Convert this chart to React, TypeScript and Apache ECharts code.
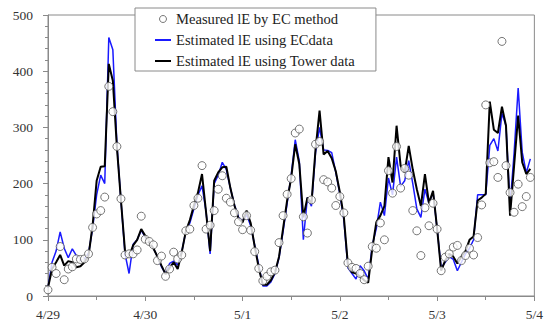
import React, { useEffect, useRef } from 'react';
import * as echarts from 'echarts';

// x tick labels (one per day, every 24 hours starting 4/29 00:00)
const dayLabels = ['4/29', '4/30', '5/1', '5/2', '5/3', '5/4'];

// hourly values, hour 0 = 4/29 00:00
const measured = [
  11, 51, 40, 88, 29, 48, 52, 66, 65, 66, 75, 122, 146, 152, 176, 373, 328, 266, 173, 73, 75, 75, 82, 142,
  101, 97, 91, 63, 71, 35, 48, 78, 66, 73, 116, 119, 161, 174, 232, 119, 126, 152, 190, 214, 174, 167, 148, 132,
  118, 143, 117, 79, 49, 27, 35, 43, 46, 95, 143, 181, 209, 290, 297, 141, 112, 171, 270, 275, 207, 203, 192, 161,
  177, 148, 59, 51, 49, 40, 29, 53, 88, 85, 130, 100, 223, 183, 266, 192, 227, 215, 152, 116, 72, 157, 125, 165,
  119, 45, 69, 75, 87, 90, 63, 72, 85, 73, 104, 162, 340, 237, 239, 211, 453, 232, 184, 149, 199, 159, 177, 211,
];

const ecEstimate = [
  15, 60, 80, 114, 85, 68, 84, 72, 63, 66, 76, 120, 180, 215, 200, 460, 438, 270, 170, 75, 40, 92, 100, 117,
  105, 95, 85, 70, 52, 40, 58, 62, 55, 78, 115, 130, 155, 180, 196, 150, 75, 200, 215, 238, 225, 192, 162, 140,
  133, 145, 125, 90, 55, 18, 18, 25, 40, 68, 115, 165, 215, 278, 240, 100, 175, 160, 255, 300, 260, 259, 255, 220,
  182, 135, 50, 40, 30, 54, 45, 30, 90, 120, 167, 143, 210, 180, 247, 195, 205, 241, 200, 155, 140, 190, 165, 185,
  120, 50, 60, 70, 65, 45, 60, 75, 85, 100, 180, 180, 180, 268, 280, 258, 325, 303, 160, 255, 370, 256, 219, 244,
];

const towerEstimate = [
  15, 48, 60, 73, 54, 62, 60, 51, 53, 60, 72, 125, 205, 230, 231, 413, 383, 265, 170, 80, 70, 90, 100, 119,
  107, 95, 85, 70, 54, 39, 50, 60, 48, 78, 115, 135, 161, 184, 217, 149, 80, 205, 220, 229, 230, 192, 161, 138,
  131, 152, 130, 88, 50, 20, 20, 28, 42, 70, 120, 170, 210, 270, 235, 140, 175, 165, 260, 330, 252, 258, 245, 222,
  185, 140, 55, 42, 40, 35, 28, 24, 84, 131, 143, 160, 247, 202, 303, 232, 220, 267, 225, 190, 160, 217, 165, 187,
  120, 45, 63, 75, 70, 58, 70, 80, 100, 106, 170, 175, 182, 346, 296, 290, 337, 303, 143, 232, 321, 238, 217, 226,
];

const SERIF = 'Liberation Serif, Times New Roman, DejaVu Serif, serif';
const AXIS_GREY = '#8a8a8a';
const LINE_ICON = 'path://M0,0 L16,0 L16,2 L0,2 Z';

export default function App() {
  const ref = useRef<HTMLDivElement>(null);

  useEffect(() => {
    if (!ref.current) return;
    const chart = echarts.init(ref.current, undefined, { renderer: 'svg' });
    const toPairs = (arr: number[]) => arr.map((v, i) => [i, v]);

    chart.setOption({
      animation: false,
      backgroundColor: '#ffffff',
      textStyle: { fontFamily: SERIF },
      grid: {
        left: 48,
        right: 8,
        top: 15,
        bottom: 24,
        show: true,
        borderColor: AXIS_GREY,
        borderWidth: 1,
      },
      legend: {
        orient: 'vertical',
        left: 135,
        top: 8,
        padding: [3, 21, 2, 20],
        itemGap: 5,
        itemWidth: 16,
        itemHeight: 7,
        borderColor: AXIS_GREY,
        borderWidth: 1,
        backgroundColor: '#ffffff',
        textStyle: { fontFamily: SERIF, fontSize: 14.6, color: '#222', lineHeight: 16 },
        data: [
          {
            name: 'Measured lE by EC method',
            icon: 'circle',
            itemStyle: { color: '#ffffff', borderColor: '#555', borderWidth: 1 },
          },
          { name: 'Estimated lE using ECdata', icon: LINE_ICON, itemStyle: { color: '#1a1aff' } },
          { name: 'Estimated lE using Tower data', icon: LINE_ICON, itemStyle: { color: '#000000' } },
        ],
      },
      xAxis: {
        type: 'value',
        min: 0,
        max: 120,
        interval: 24,
        axisLine: { show: true, lineStyle: { color: AXIS_GREY, width: 1 } },
        axisTick: { show: true, length: 5, lineStyle: { color: AXIS_GREY } },
        minorTick: { show: true, splitNumber: 2, length: 4, lineStyle: { color: AXIS_GREY } },
        splitLine: { show: false },
        axisLabel: {
          fontFamily: SERIF,
          fontSize: 13.5,
          color: '#333',
          margin: 11,
          formatter: (v: number) => dayLabels[Math.round(v / 24)] ?? '',
        },
      },
      yAxis: {
        type: 'value',
        min: 0,
        max: 500,
        interval: 100,
        axisLine: { show: true, lineStyle: { color: AXIS_GREY, width: 1 } },
        axisTick: { show: true, length: 5, lineStyle: { color: AXIS_GREY } },
        minorTick: { show: true, splitNumber: 5, length: 3, lineStyle: { color: AXIS_GREY } },
        splitLine: { show: false },
        axisLabel: { fontFamily: SERIF, fontSize: 13.5, color: '#333', margin: 15 },
      },
      series: [
        {
          name: 'Estimated lE using ECdata',
          type: 'line',
          data: toPairs(ecEstimate),
          symbol: 'none',
          lineStyle: { color: '#1a1aff', width: 1.5 },
          itemStyle: { color: '#1a1aff' },
          z: 2,
        },
        {
          name: 'Estimated lE using Tower data',
          type: 'line',
          data: toPairs(towerEstimate),
          symbol: 'none',
          lineStyle: { color: '#000000', width: 2 },
          itemStyle: { color: '#000000' },
          z: 3,
        },
        {
          name: 'Measured lE by EC method',
          type: 'scatter',
          data: toPairs(measured),
          symbol: 'circle',
          symbolSize: 8,
          itemStyle: { color: '#ffffff', borderColor: '#555', borderWidth: 1 },
          z: 4,
        },
      ],
    });

    return () => chart.dispose();
  }, []);

  return (
    <div
      ref={ref}
      style={{ position: 'absolute', left: 0, top: 0, width: 546, height: 321, background: '#fff' }}
    />
  );
}
